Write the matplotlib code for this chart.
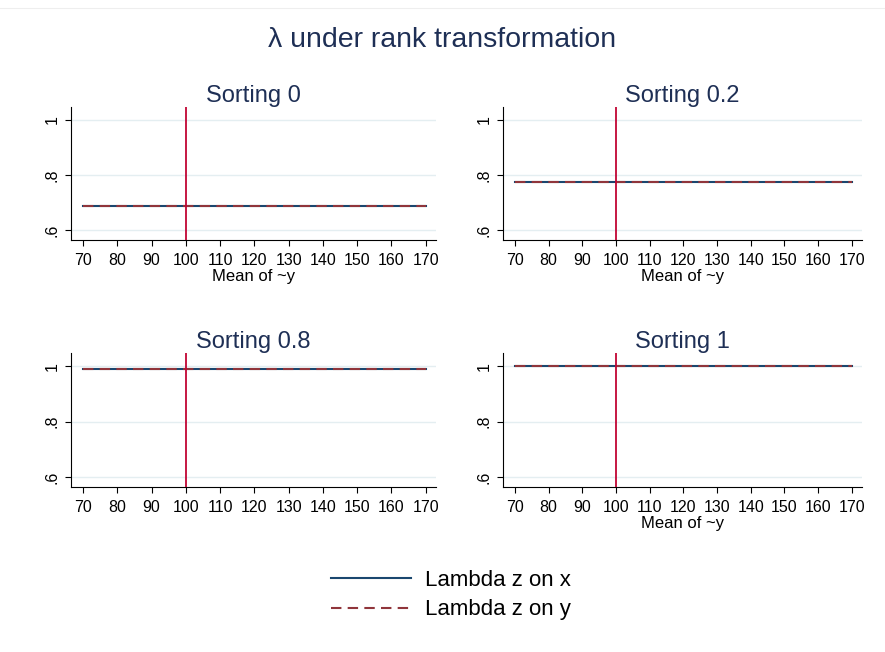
import matplotlib
matplotlib.use("Agg")
import matplotlib.pyplot as plt
from matplotlib.lines import Line2D

plt.rcParams['font.family'] = ['Liberation Sans', 'DejaVu Sans']

# data
mean_y = [70, 80, 90, 100, 110, 120, 130, 140, 150, 160, 170]
sorting = ["Sorting 0", "Sorting 0.2", "Sorting 0.8", "Sorting 1"]
lambda_x = {
    "Sorting 0":   [0.690] * 11,
    "Sorting 0.2": [0.775] * 11,
    "Sorting 0.8": [0.991] * 11,
    "Sorting 1":   [1.000] * 11,
}
lambda_y = {
    "Sorting 0":   [0.690] * 11,
    "Sorting 0.2": [0.775] * 11,
    "Sorting 0.8": [0.991] * 11,
    "Sorting 1":   [1.000] * 11,
}
x_ticks = [70, 80, 90, 100, 110, 120, 130, 140, 150, 160, 170]
y_ticks = [0.6, 0.8, 1.0]
y_labels = [".6", ".8", "1"]
ref_x = 100

navy = "#1a476f"
maroon = "#90353b"
cranberry = "#c10534"
grid_col = "#e4eef1"
title_col = "#1e2f55"

W, H = 885, 652
fig = plt.figure(figsize=(W / 100, H / 100), dpi=100)
fig.patch.set_facecolor("white")

# panel boxes in pixels: left, top, right, bottom
boxes = [(71, 107, 436, 240), (503, 107, 862, 240),
         (71, 353, 436, 487), (503, 353, 862, 487)]
xlabels = [True, True, False, True]

for name, (l, t, r, b), has_xlabel in zip(sorting, boxes, xlabels):
    ax = fig.add_axes([l / W, 1 - b / H, (r - l) / W, (b - t) / H])
    ax.set_xlim(66.5, 173)
    ax.set_ylim(0.565, 1.047)
    for y in y_ticks:
        ax.axhline(y, color=grid_col, lw=1, zorder=0)
    ax.plot(mean_y, lambda_x[name], color=navy, lw=1.5, zorder=2)
    ax.plot(mean_y, lambda_y[name], color=maroon, lw=1.5, ls=(0, (5, 3)), zorder=3)
    ax.axvline(ref_x, color=cranberry, lw=1.3, zorder=4)
    ax.set_xticks(x_ticks)
    ax.set_yticks(y_ticks)
    ax.set_yticklabels(y_labels, rotation=90, va="center")
    ax.tick_params(labelsize=11.5, length=4.3, color="black", width=0.8)
    ax.tick_params(axis="x", pad=5)
    ax.tick_params(axis="y", pad=4)
    for s in ["top", "right"]:
        ax.spines[s].set_visible(False)
    for s in ["left", "bottom"]:
        ax.spines[s].set_linewidth(0.8)
    ax.set_title(name, fontsize=17, color=title_col, pad=3)
    if has_xlabel:
        ax.set_xlabel("Mean of ~y", fontsize=12, labelpad=0.5)

fig.text(0.5, 1 - 40 / H, "λ under rank transformation", ha="center", va="center",
         fontsize=20.5, color=title_col)
fig.add_artist(Line2D([0, 1], [1 - 8 / H, 1 - 8 / H], color="#eeeeee", lw=0.8))

handles = [Line2D([], [], color=navy, lw=1.5),
           Line2D([], [], color=maroon, lw=1.5, ls=(0, (5, 3)))]
fig.legend(handles, ["Lambda z on x", "Lambda z on y"], loc="center",
           bbox_to_anchor=(451 / W, 1 - 595 / H), frameon=False, fontsize=16,
           handlelength=3.6, handletextpad=0.65, labelspacing=0.4)

fig.savefig("out.png", dpi=100)
